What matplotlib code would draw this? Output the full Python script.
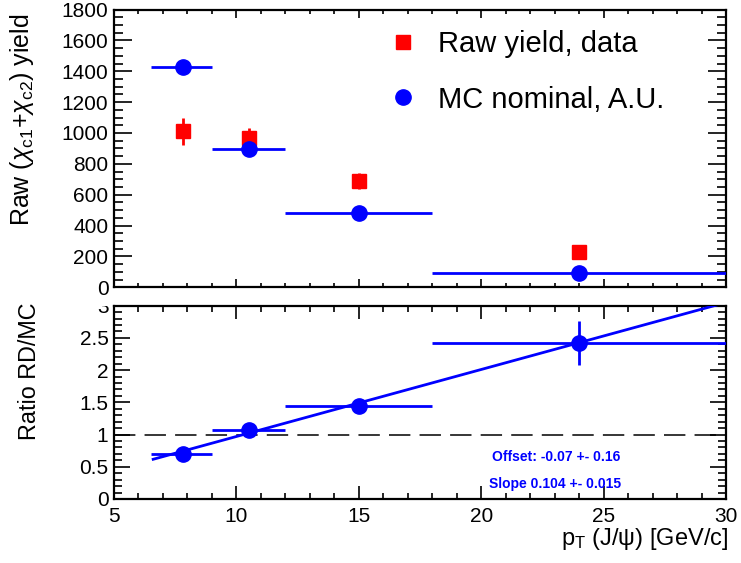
import matplotlib
matplotlib.use('Agg')
import matplotlib.pyplot as plt
import numpy as np
from matplotlib.ticker import MultipleLocator
from matplotlib.lines import Line2D
from matplotlib.transforms import Bbox, TransformedBbox

plt.rcParams['font.family'] = ['Liberation Sans', 'DejaVu Sans']
plt.rcParams['mathtext.fontset'] = 'custom'
plt.rcParams['mathtext.rm'] = 'Liberation Sans'
plt.rcParams['mathtext.it'] = 'Liberation Sans:italic'
plt.rcParams['mathtext.bf'] = 'Liberation Sans:bold'

# ---- data ----
pt_centers = [7.8, 10.5, 15.0, 24.0]
pt_low = [6.5, 9.0, 12.0, 18.0]
pt_high = [9.0, 12.0, 18.0, 30.0]
raw_yield = [1010, 965, 690, 230]
raw_yield_err = [90, 70, 50, 20]
mc_yield = [1430, 895, 480, 95]
ratio = [0.70, 1.07, 1.44, 2.42]
ratio_err = [0.05, 0.05, 0.06, 0.34]
fit_offset = -0.07
fit_slope = 0.104
fit_range = [6.6, 30.0]
legend_labels = ['Raw yield, data', 'MC nominal, A.U.']

W, H = 741, 563
fig = plt.figure(figsize=(W / 100, H / 100), dpi=100)

def fx(px):
    return px / W

def fy(py):
    return 1 - py / H

L, R = 114, 726
ax1 = fig.add_axes([fx(L), fy(287.3), fx(R) - fx(L), fy(9.5) - fy(287.3)])
ax2 = fig.add_axes([fx(L), fy(499), fx(R) - fx(L), fy(305.7) - fy(499)])

pc = np.array(pt_centers)
xerr = [pc - np.array(pt_low), np.array(pt_high) - pc]

# top panel
ax1.errorbar(pt_centers, raw_yield, yerr=raw_yield_err, fmt='s', color='#ff0000',
             ms=10, elinewidth=2, capsize=0, zorder=3)
ax1.errorbar(pt_centers, mc_yield, xerr=xerr, fmt='o', color='#0000ff',
             ms=11, elinewidth=2, capsize=0, zorder=4)
ax1.set_xlim(5, 30)
ax1.set_ylim(0, 1800)

handles = [Line2D([], [], ls='none', marker='s', color='#ff0000', ms=10),
           Line2D([], [], ls='none', marker='o', color='#0000ff', ms=11)]
ax1.legend(handles, legend_labels, loc='upper left', frameon=False,
           bbox_to_anchor=(fx(388.5), fy(30)), bbox_transform=fig.transFigure,
           fontsize=21, handlelength=1.0, handletextpad=0.70, labelspacing=0.95,
           borderpad=0, borderaxespad=0)

# bottom panel
ax2.errorbar(pt_centers, ratio, xerr=xerr, yerr=ratio_err, fmt='o', color='#0000ff',
             ms=11, elinewidth=2, capsize=0, zorder=4)
fx_line = np.array(fit_range)
ax2.plot(fx_line, fit_offset + fit_slope * fx_line, color='#0000ff', lw=2, zorder=3)
ax2.plot([5, 30], [1, 1], color='black', lw=1.1, dashes=(14, 6), zorder=2)
ax2.set_xlim(5, 30)
ax2.set_ylim(0, 3.0)

ax2.text(fx(556), fy(457), 'Offset: -0.07 +- 0.16', transform=fig.transFigure,
         ha='center', va='center', color='#0000ff', fontsize=10, fontweight='bold')
ax2.text(fx(555), fy(484), 'Slope 0.104 +- 0.015', transform=fig.transFigure,
         ha='center', va='center', color='#0000ff', fontsize=10, fontweight='bold')

# ticks and frames
for ax in (ax1, ax2):
    for s in ax.spines.values():
        s.set_linewidth(1.6)
    ax.xaxis.set_major_locator(MultipleLocator(5))
    ax.xaxis.set_minor_locator(MultipleLocator(1))
    ax.tick_params(which='both', direction='in', top=True, right=True,
                   width=1.2, labelsize=15, colors='black')

ax1.yaxis.set_major_locator(MultipleLocator(200))
ax1.yaxis.set_minor_locator(MultipleLocator(50))
ax1.tick_params(axis='y', which='major', length=13, pad=4)
ax1.tick_params(axis='y', which='minor', length=6.5)
ax1.tick_params(axis='x', which='major', length=5.8, labelbottom=False)
ax1.tick_params(axis='x', which='minor', length=2.9)

ax2.yaxis.set_major_locator(MultipleLocator(0.5))
ax2.yaxis.set_minor_locator(MultipleLocator(0.1))
ax2.set_yticks([0, 0.5, 1, 1.5, 2, 2.5, 3])
ax2.set_yticklabels(['0', '0.5', '1', '1.5', '2', '2.5', '3'])
ax2.tick_params(axis='y', which='major', length=11.5, pad=4)
ax2.tick_params(axis='y', which='minor', length=5.8)
ax2.tick_params(axis='x', which='major', length=9.4, pad=6)
ax2.tick_params(axis='x', which='minor', length=4.3)

clipbox = TransformedBbox(Bbox([[0, 0], [1, fy(305.7)]]), fig.transFigure)
for lab in ax2.get_yticklabels():
    lab.set_clip_box(clipbox)
    lab.set_clip_on(True)

fig.text(fx(22), fy(13), r'Raw ($\chi_{\mathrm{c1}}$+$\chi_{\mathrm{c2}}$) yield', rotation=90,
         ha='center', va='top', fontsize=18)
fig.text(fx(29), fy(302), 'Ratio RD/MC', rotation=90, ha='center', va='top', fontsize=16.8)
fig.text(fx(728), fy(526), r'p$_{\mathrm{T}}$ (J/ψ) [GeV/c]', ha='right', va='top', fontsize=17)

fig.savefig('out.png', dpi=100)
